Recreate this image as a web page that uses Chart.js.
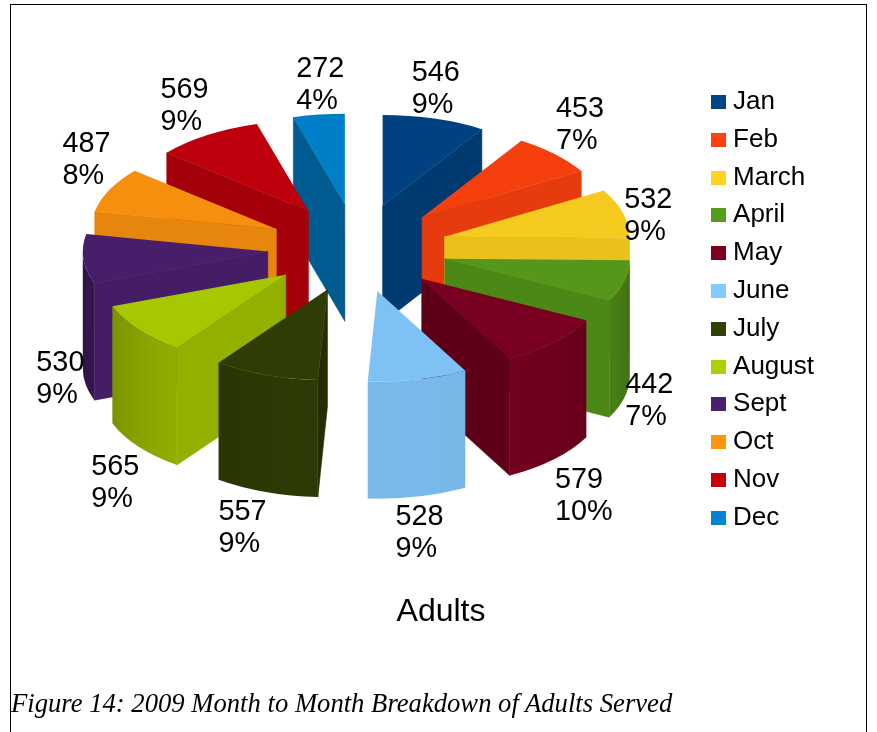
<!DOCTYPE html>
<html><head><meta charset="utf-8">
<script src="https://cdn.jsdelivr.net/npm/chart.js@4"></script>
<style>
html,body{margin:0;padding:0;background:#fff;width:877px;height:732px;overflow:hidden}
#frame{position:absolute;left:10px;top:4px;width:855px;height:728px;border:1px solid #000;border-bottom:none;box-sizing:content-box}
#wrap{position:absolute;left:0;top:0;width:877px;height:732px}
#cap{position:absolute;left:11px;top:688px;font:italic 26.65px "Liberation Serif",serif;color:#000;white-space:nowrap}
</style></head><body>
<div id="frame"></div>
<div id="wrap"><canvas id="c" width="877" height="732"></canvas></div>
<div id="cap">Figure 14: 2009 Month to Month Breakdown of Adults Served</div>
<script>
const months = ['Jan','Feb','March','April','May','June','July','August','Sept','Oct','Nov','Dec'];
const adults = [546,453,532,442,579,528,557,565,530,487,569,272];
const palette = ['#004586','#ff420e','#ffd320','#579d1c','#7e0021','#83caff','#314004','#aecf00','#4b1f6f','#ff950e','#c5000b','#0084d1'];

const pieX = 357.5, pieY = 248, tilt = 0.49, depth = 117, explode = 90;
const total = adults.reduce((a,b)=>a+b,0);

function shadeColor(hex,f){
  const n=parseInt(hex.slice(1),16);
  return 'rgb('+[(n>>16)&255,(n>>8)&255,n&255].map(v=>Math.round(v*f)).join(',')+')';
}
function lightAt(t){ return 0.66+0.26*Math.cos(t-80*Math.PI/180); }

const pie3d = {
  id:'pie3d',
  beforeDatasetDraw(chart,args){
    const ctx=chart.ctx, meta=chart.getDatasetMeta(args.index);
    const order=meta.data.map((el,i)=>({el,i,m:(el.startAngle+el.endAngle)/2}))
      .sort((p,q)=>Math.sin(p.m)-Math.sin(q.m));
    for(const {el,i,m} of order){
      const R=el.outerRadius, s=el.startAngle, e=el.endAngle;
      const ox=pieX+Math.cos(m)*explode, oy=pieY+Math.sin(m)*explode*tilt;
      const px=t=>ox+Math.cos(t)*R, py=t=>oy+Math.sin(t)*R*tilt;
      const col=palette[i];
      const radial=(t,normal)=>{
        ctx.beginPath();ctx.moveTo(ox,oy);ctx.lineTo(px(t),py(t));
        ctx.lineTo(px(t),py(t)+depth);ctx.lineTo(ox,oy+depth);ctx.closePath();
        ctx.fillStyle=shadeColor(col,lightAt(normal));ctx.fill();
        ctx.strokeStyle=ctx.fillStyle;ctx.lineWidth=0.6;ctx.stroke();
      };
      if(Math.cos(s)<0) radial(s,s-Math.PI/2);
      if(Math.cos(e)>0) radial(e,e+Math.PI/2);
      const lo=Math.max(s,0), hi=Math.min(e,Math.PI);
      if(hi>lo){
        const g=ctx.createLinearGradient(px(lo),0,px(hi),0);
        for(let j=0;j<=8;j++){
          const t=lo+(hi-lo)*j/8;
          g.addColorStop(Math.min(1,Math.max(0,(px(t)-px(lo))/(px(hi)-px(lo)))),shadeColor(col,lightAt(t)));
        }
        ctx.beginPath();
        ctx.ellipse(ox,oy,R,R*tilt,0,lo,hi);
        ctx.ellipse(ox,oy+depth,R,R*tilt,0,hi,lo,true);
        ctx.closePath();ctx.fillStyle=g;ctx.fill();
      }
      ctx.save();
      ctx.translate(ox,oy);ctx.scale(1,tilt);ctx.translate(-el.x,-el.y);
      el.draw(ctx);
      ctx.restore();
    }
    return false;
  },
  afterDatasetsDraw(chart){
    const ctx=chart.ctx, meta=chart.getDatasetMeta(0);
    ctx.save();
    ctx.font='28.8px "Liberation Sans"';ctx.fillStyle='#000';ctx.textBaseline='middle';ctx.textAlign='left';
    meta.data.forEach((el,i)=>{
      const m=(el.startAngle+el.endAngle)/2, c=Math.cos(m), s=Math.sin(m);
      const r=el.outerRadius+explode;
      const x=pieX+c*r; let y=pieY+s*r*tilt+(s>0?depth:0);
      const top=String(adults[i]), bot=Math.round(adults[i]/total*100)+'%';
      const w=Math.max(ctx.measureText(top).width,ctx.measureText(bot).width);
      let tx;
      if(c>0.3) tx=x+1;
      else if(c<-0.3) tx=x+1-w;
      else tx=x+1.5-w/2;
      if(s<-0.4) y-=29.5; else if(s>0.4) y+=36.5; else y+=3;
      ctx.fillText(top,tx,y-16);
      ctx.fillText(bot,tx,y+16);
    });
    ctx.restore();
  }
};

function swatch(color){
  const cv=document.createElement('canvas');cv.width=15;cv.height=14;
  const x=cv.getContext('2d');x.fillStyle=color;x.fillRect(0,0,15,14);
  return cv;
}

new Chart(document.getElementById('c'),{
  type:'pie',
  data:{labels:months,datasets:[{
    data:adults,
    backgroundColor:palette.map(p=>shadeColor(p,0.96)),
    borderWidth:0,
    offset:0,
    hoverOffset:0
  }]},
  plugins:[pie3d],
  options:{
    responsive:false,animation:false,events:[],
    radius:185,
    layout:{padding:{left:58,right:53,top:37,bottom:91}},
    plugins:{
      tooltip:{enabled:false},
      title:{display:true,position:'bottom',text:'Adults',color:'#000',
        font:{family:'"Liberation Sans"',size:32,weight:'normal'},padding:{top:10,bottom:10}},
      legend:{position:'right',fullSize:false,
        labels:{
          usePointStyle:true,pointStyleWidth:3,padding:11.8,color:'#000',
          font:{family:'"Liberation Sans"',size:26},
          generateLabels(chart){
            return months.map((t,i)=>({text:t,index:i,fillStyle:palette[i],strokeStyle:palette[i],lineWidth:0,pointStyle:swatch(palette[i]),hidden:false}));
          }
        }
      }
    }
  }
});
</script>
</body></html>
